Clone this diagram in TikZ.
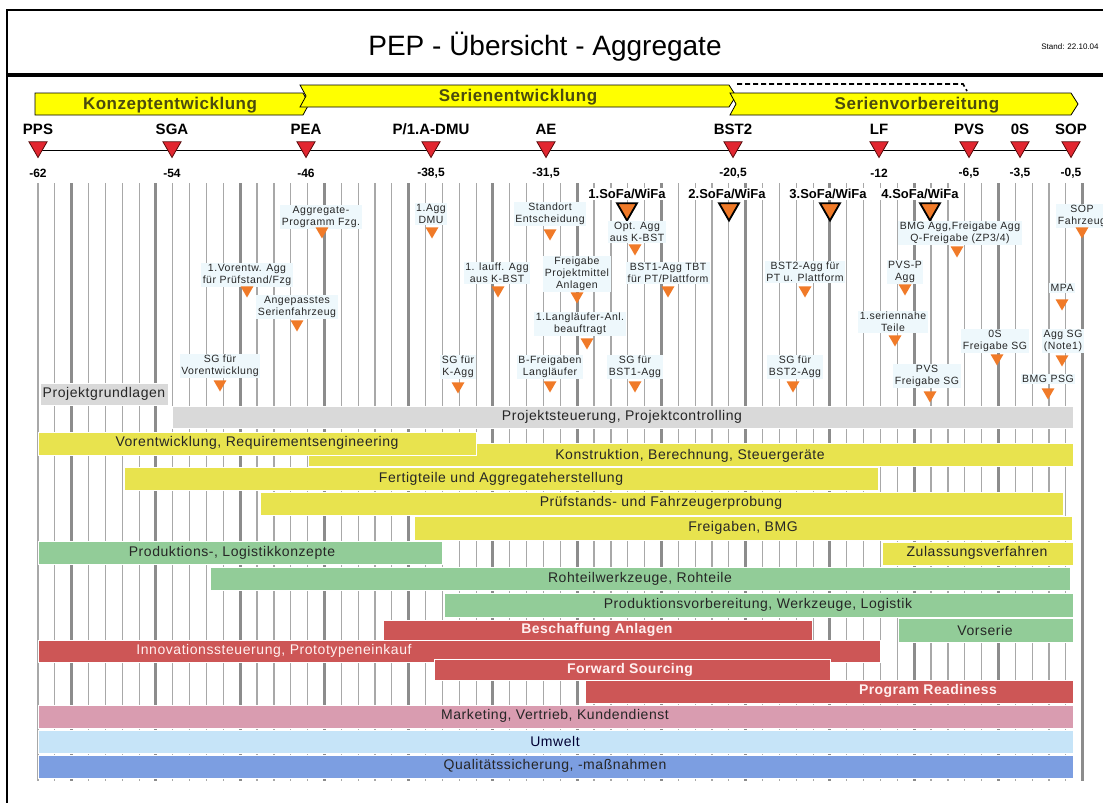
\documentclass[tikz,border=0pt]{standalone}
\usepackage{fontspec}
\setmainfont{Liberation Sans}
\usetikzlibrary{shapes.geometric}

\definecolor{phaseyellow}{RGB}{255,255,0}
\definecolor{phasetext}{RGB}{75,75,15}
\definecolor{msred}{RGB}{226,38,48}
\definecolor{msedge}{RGB}{90,10,10}
\definecolor{annorange}{RGB}{240,122,40}
\definecolor{annbg}{RGB}{238,248,252}
\definecolor{gridthin}{RGB}{168,168,168}
\definecolor{gridthick}{RGB}{140,140,140}
\definecolor{bargrey}{RGB}{217,217,217}
\definecolor{baryellow}{RGB}{232,227,78}
\definecolor{bargreen}{RGB}{146,204,152}
\definecolor{barred}{RGB}{205,86,86}
\definecolor{barpink}{RGB}{217,156,176}
\definecolor{barlblue}{RGB}{198,228,248}
\definecolor{barblue}{RGB}{124,158,225}

\tikzset{
  msmark/.style={regular polygon, regular polygon sides=3, shape border rotate=180,
    minimum size=21pt, inner sep=0pt, fill=msred, draw=msedge, line width=0.8pt},
  mslabel/.style={font=\fontsize{15}{15}\selectfont\bfseries, inner sep=0pt},
  msnum/.style={font=\fontsize{12}{12}\selectfont\bfseries, inner sep=0pt},
  sofamark/.style={regular polygon, regular polygon sides=3, shape border rotate=180,
    minimum size=23pt, inner sep=0pt, fill=annorange, draw=black, line width=1.8pt},
  sofalabel/.style={font=\fontsize{13}{13}\selectfont\bfseries, fill=white, inner sep=1.5pt},
  annmark/.style={regular polygon, regular polygon sides=3, shape border rotate=180,
    minimum size=15pt, inner sep=0pt, fill=annorange},
  annlabel/.style={font=\fontsize{10.5}{12}\selectfont\addfontfeature{LetterSpace=5},
    align=center, fill=annbg, inner sep=1.5pt, text=black!85},
  phase/.style={fill=phaseyellow, draw=black, line width=0.8pt},
  phaselabel/.style={font=\fontsize{17}{17}\selectfont\bfseries\addfontfeature{LetterSpace=3},
    text=phasetext, inner sep=0pt},
  bartext/.style={font=\fontsize{14}{14}\selectfont\addfontfeature{LetterSpace=4},
    inner sep=0pt, text=black!85},
  redtext/.style={bartext, text=white!94!red},
  redbold/.style={redtext, font=\fontsize{14}{14}\selectfont\bfseries\addfontfeature{LetterSpace=3}},
  barbox/.style={draw=white, line width=1pt},
}

% milestone: name, x, label, month
\newcommand\milestone[4]{%
  \node[msmark] (ms#1) at (#2,147) {};
  \node[mslabel] (ml#1) at (#2,129) {#3};
  \node[msnum] (mn#1) at (#2,173) {#4};
}
% annotation: name, text x, text y, text, marker x, marker y
\newcommand\annot[6]{%
  \node[annlabel] (at#1) at (#2,#3) {#4};
  \node[annmark] (am#1) at (#5,#6) {};
}
% bar: x0, y0, x1, y1, colour
\newcommand\gbar[5]{\path[barbox, fill=#5] (#1,#2) rectangle (#3,#4);}

\begin{document}
\begin{tikzpicture}[x=1pt, y=-1pt]
\useasboundingbox (0,0) rectangle (1103,803);
\fill[white] (0,0) rectangle (1103,803);

% frame and header
\draw[line width=2pt] (7,803) -- (7,10) -- (1103,10);
\draw[line width=3.5pt] (7,75) -- (1103,75);
\node[font=\fontsize{28}{28}\selectfont, inner sep=0pt] (title) at (545,47) {PEP - Übersicht - Aggregate};
\node[font=\fontsize{8}{8}\selectfont, inner sep=0pt] (stand) at (1070,47) {Stand: 22.10.04};

% phases
\draw[phase] (35,93) -- (303,93) -- (309,104) -- (303,115) -- (35,115) -- cycle;
\draw[phase] (300,85) -- (729,85) -- (736,96) -- (729,107) -- (300,107) -- (306,96) -- cycle;
\draw[phase] (730,93) -- (1071,93) -- (1078,104) -- (1071,115) -- (730,115) -- (736,104) -- cycle;
\draw[line width=1.6pt, dash pattern=on 5pt off 3pt] (737,84) -- (963,84) -- (967,91);
\node[phaselabel] (ph1) at (170,105) {Konzeptentwicklung};
\node[phaselabel] (ph2) at (518,97) {Serienentwicklung};
\node[phaselabel] (ph3) at (917,105) {Serienvorbereitung};

% month grid, every fifth month heavier
\foreach \m in {-62,...,0}{%
  \pgfmathsetmacro\gx{38+(\m+62)*16.85}%
  \pgfmathtruncatemacro\gr{mod(\m+100,5)}%
  \ifnum\gr=0\relax
    \draw[gridthick, line width=3pt] (\gx,183) -- (\gx,781);
  \else
    \draw[gridthin, line width=1.2pt] (\gx,183) -- (\gx,781);
  \fi
}

% milestone axis
\coordinate (axL) at (38,150);
\coordinate (axR) at (1071,150);
\draw[line width=0.9pt] (axL) -- (axR);
\milestone{PPS}{38}{PPS}{-62}
\milestone{SGA}{172}{SGA}{-54}
\milestone{PEA}{306}{PEA}{-46}
\milestone{DMU}{431}{P/1.A-DMU}{-38,5}
\milestone{AE}{546}{AE}{-31,5}
\milestone{BSTz}{733}{BST2}{-20,5}
\milestone{LF}{879}{LF}{-12}
\milestone{PVS}{969}{PVS}{-6,5}
\milestone{NS}{1020}{0S}{-3,5}
\milestone{SOP}{1071}{SOP}{-0,5}

% vehicle test milestones
\node[sofalabel] (sl1) at (627,194) {1.SoFa/WiFa};
\node[sofalabel] (sl2) at (727,194) {2.SoFa/WiFa};
\node[sofalabel] (sl3) at (828,194) {3.SoFa/WiFa};
\node[sofalabel] (sl4) at (920,194) {4.SoFa/WiFa};
\node[sofamark] (sm1) at (627,209) {};
\node[sofamark] (sm2) at (729,209) {};
\node[sofamark] (sm3) at (830,209) {};
\node[sofamark] (sm4) at (930,209) {};

% bars
\gbar{40}{383}{168}{405}{bargrey}
\gbar{172}{406}{1073}{428}{bargrey}
\gbar{308}{443}{1073}{466}{baryellow}
\gbar{38}{432}{476}{455}{baryellow}
\gbar{124}{467}{878}{490}{baryellow}
\gbar{260}{492}{1063}{515}{baryellow}
\gbar{414}{516}{1072}{540}{baryellow}
\gbar{38}{541}{442}{564}{bargreen}
\gbar{882}{542}{1073}{565}{baryellow}
\gbar{210}{567}{1070}{590}{bargreen}
\gbar{444}{593}{1073}{617}{bargreen}
\gbar{383}{620}{812}{641}{barred}
\gbar{898}{618}{1073}{642}{bargreen}
\gbar{38}{640}{880}{662}{barred}
\gbar{434}{659}{830}{680}{barred}
\gbar{585}{680}{1073}{703}{barred}
\gbar{38}{705}{1073}{728}{barpink}
\gbar{38}{730}{1073}{753}{barlblue}
\gbar{38}{755}{1073}{778}{barblue}

\node[bartext] (b1) at (104,394) {Projektgrundlagen};
\node[bartext] (b2) at (622,417) {Projektsteuerung, Projektcontrolling};
\node[bartext] (b3) at (690,456) {Konstruktion, Berechnung, Steuergeräte};
\node[bartext] (b4) at (257,443) {Vorentwicklung, Requirementsengineering};
\node[bartext] (b5) at (501,479) {Fertigteile und Aggregateherstellung};
\node[bartext] (b6) at (661,503) {Prüfstands- und Fahrzeugerprobung};
\node[bartext] (b7) at (743,528) {Freigaben, BMG};
\node[bartext] (b8) at (232,553) {Produktions-, Logistikkonzepte};
\node[bartext] (b9) at (977,553) {Zulassungsverfahren};
\node[bartext] (b10) at (640,579) {Rohteilwerkzeuge, Rohteile};
\node[bartext] (b11) at (758,605) {Produktionsvorbereitung, Werkzeuge, Logistik};
\node[redbold] (b12) at (597,630) {Beschaffung Anlagen};
\node[bartext] (b13) at (985,630) {Vorserie};
\node[redtext] (b14) at (274,651) {Innovationssteuerung, Prototypeneinkauf};
\node[redbold] (b15) at (630,670) {Forward Sourcing};
\node[redbold] (b16) at (928,691) {Program Readiness};
\node[bartext] (b17) at (555,716) {Marketing, Vertrieb, Kundendienst};
\node[bartext, text=black!80!blue] (b18) at (555,741) {Umwelt};
\node[bartext] (b19) at (555,766) {Qualitätssicherung, -maßnahmen};

% annotations
\annot{1}{321}{217}{Aggregate-\\Programm Fzg.}{322}{231}
\annot{2}{431}{214}{1.Agg\\DMU}{432}{231}
\annot{3}{550}{214}{Standort\\Entscheidung}{550}{233}
\annot{4}{637}{232}{Opt. Agg\\aus K-BST}{635}{248}
\annot{5}{247}{275}{1.Vorentw. Agg\\für Prüfstand/Fzg}{247}{290}
\annot{6}{297}{307}{Angepasstes\\Serienfahrzeug}{297}{324}
\annot{7}{497}{273}{1. lauff. Agg\\aus K-BST}{498}{290}
\annot{8}{577}{274}{Freigabe\\Projektmittel\\Anlagen}{577}{296}
\annot{9}{668}{273}{BST1-Agg TBT\\für PT/Plattform}{668}{290}
\annot{10}{580}{324}{1.Langläufer-Anl.\\beauftragt}{587}{342}
\annot{11}{220}{366}{SG für\\Vorentwicklung}{220}{384}
\annot{12}{458}{367}{SG für\\K-Agg}{458}{386}
\annot{13}{550}{367}{B-Freigaben\\Langläufer}{550}{385}
\annot{14}{635}{367}{SG für\\BST1-Agg}{635}{385}
\annot{15}{805}{272}{BST2-Agg für\\PT u. Plattform}{805}{290}
\annot{16}{795}{367}{SG für\\BST2-Agg}{793}{385}
\annot{17}{960}{233}{BMG Agg,Freigabe Agg\\Q-Freigabe (ZP3/4)}{957}{250}
\annot{18}{905}{272}{PVS-P\\Agg}{905}{288}
\annot{19}{893}{322}{1.seriennahe\\Teile}{895}{339}
\annot{20}{927}{376}{PVS\\Freigabe SG}{930}{395}
\annot{21}{995}{341}{0S\\Freigabe SG}{997}{358}
\annot{22}{1082}{216}{SOP\\Fahrzeug}{1082}{231}
\annot{23}{1062}{288}{MPA}{1062}{303}
\annot{24}{1063}{341}{Agg SG\\(Note1)}{1062}{359}
\annot{25}{1048}{379}{BMG PSG}{1048}{392}
\end{tikzpicture}
\end{document}
